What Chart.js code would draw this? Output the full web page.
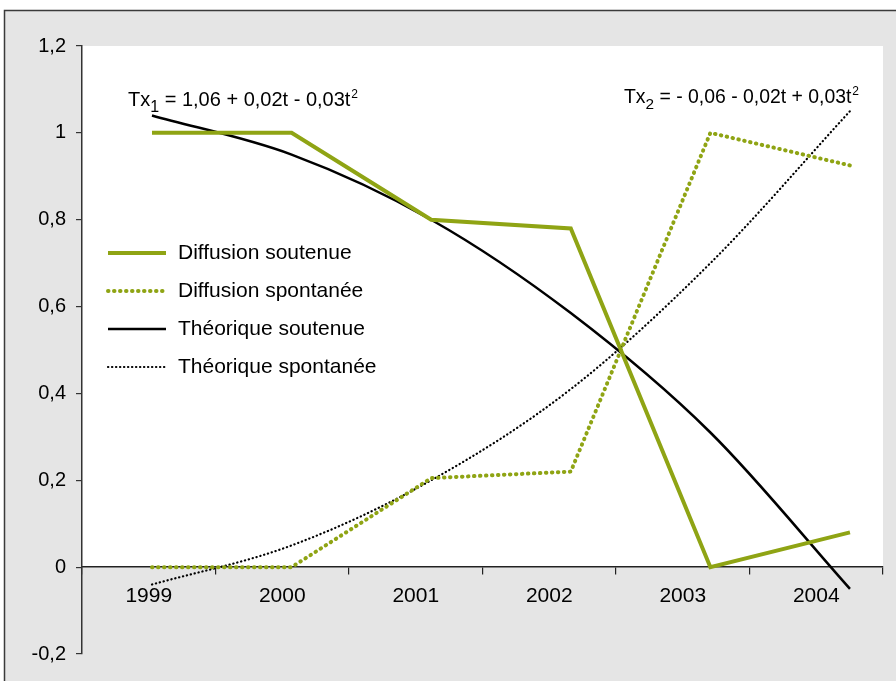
<!DOCTYPE html>
<html>
<head>
<meta charset="utf-8">
<script src="https://cdn.jsdelivr.net/npm/chart.js@4.4.1/dist/chart.umd.min.js"></script>
<style>
  body { margin: 0; background: #fff; }
  #wrap { width: 896px; height: 681px; }
</style>
</head>
<body>
<div id="wrap"><canvas id="myChart" width="896" height="681"></canvas></div>
<script>
// data
var years = ['1999', '2000', '2001', '2002', '2003', '2004'];
var steps = [0, 1, 2, 3, 4, 5];
var diffSoutenue = [1.0, 1.0, 0.80, 0.78, 0.0, 0.08];
var diffSpontanee = [0.0, 0.0, 0.205, 0.22, 1.0, 0.925];
var theoSoutenue = [1.04, 0.95, 0.80, 0.585, 0.31, -0.05];
var theoSpontanee = [-0.04, 0.05, 0.20, 0.41, 0.70, 1.05];
var yTicks = [-0.2, 0, 0.2, 0.4, 0.6, 0.8, 1, 1.2];

var GREEN = '#8fa414';
var FONT = '"Liberation Sans", Arial, Helvetica, sans-serif';

function toPoints(values) {
    return steps.map(function (s, i) { return { x: s, y: values[i] }; });
}

function fmt(v) {
    return String(Math.round(v * 10) / 10).replace('.', ',');
}

var backdrop = {
    id: 'backdrop',
    beforeDraw: function (chart) {
        var ctx = chart.ctx;
        var area = chart.chartArea;
        var y0 = chart.scales.y.getPixelForValue(0);
        ctx.save();
        ctx.fillStyle = '#e5e5e5';
        ctx.fillRect(4, 10, chart.width - 4, chart.height - 10);
        ctx.strokeStyle = '#3a3a3a';
        ctx.lineWidth = 1.5;
        ctx.beginPath();
        ctx.moveTo(4.5, chart.height);
        ctx.lineTo(4.5, 10.5);
        ctx.lineTo(chart.width, 10.5);
        ctx.stroke();
        ctx.fillStyle = '#ffffff';
        ctx.fillRect(area.left, area.top, area.right - area.left, y0 - area.top);
        ctx.restore();
    }
};

var legendRows = [
    { text: 'Diffusion soutenue', color: GREEN, width: 4, dash: [] },
    { text: 'Diffusion spontanée', color: GREEN, width: 4, dash: [0.5, 5.5] },
    { text: 'Théorique soutenue', color: '#000', width: 2.5, dash: [] },
    { text: 'Théorique spontanée', color: '#000', width: 2.2, dash: [0.3, 3.7] }
];

function drawEquation(ctx, x, y, size, sub, body) {
    ctx.font = size + 'px ' + FONT;
    ctx.fillText('Tx', x, y);
    x += ctx.measureText('Tx').width;
    ctx.font = (size - 4) + 'px ' + FONT;
    ctx.fillText(sub, x, y + 6);
    x += ctx.measureText(sub).width;
    ctx.font = size + 'px ' + FONT;
    ctx.fillText(body, x, y);
    x += ctx.measureText(body).width;
    ctx.font = '12px ' + FONT;
    ctx.fillText('2', x + 1, y - 8);
}

var annotations = {
    id: 'annotations',
    afterDraw: function (chart) {
        var ctx = chart.ctx;
        ctx.save();
        ctx.fillStyle = '#000';
        ctx.textBaseline = 'alphabetic';
        drawEquation(ctx, 128, 106, 20, '1', ' = 1,06 + 0,02t - 0,03t');
        drawEquation(ctx, 624, 103, 19.4, '2', ' = - 0,06 - 0,02t + 0,03t');

        // legend
        legendRows.forEach(function (row, i) {
            var y = 253 + i * 38;
            ctx.strokeStyle = row.color;
            ctx.lineWidth = row.width;
            ctx.lineCap = row.dash.length ? 'round' : 'butt';
            ctx.setLineDash(row.dash);
            ctx.beginPath();
            ctx.moveTo(108, y);
            ctx.lineTo(166, y);
            ctx.stroke();
            ctx.setLineDash([]);
            ctx.fillStyle = '#000';
            ctx.font = '21px ' + FONT;
            ctx.textBaseline = 'middle';
            ctx.fillText(row.text, 178, y);
        });
        ctx.restore();
    }
};

var ctx = document.getElementById('myChart').getContext('2d');
var myChart = new Chart(ctx, {
    type: 'line',
    data: {
        labels: years,
        datasets: [{
            label: 'Diffusion soutenue',
            data: toPoints(diffSoutenue),
            xAxisID: 'xt',
            borderColor: GREEN,
            borderWidth: 4,
            pointRadius: 0,
            tension: 0,
            borderJoinStyle: 'miter'
        }, {
            label: 'Diffusion spontanée',
            data: toPoints(diffSpontanee),
            xAxisID: 'xt',
            borderColor: GREEN,
            borderWidth: 4,
            borderDash: [0.5, 5.5],
            borderCapStyle: 'round',
            pointRadius: 0,
            tension: 0
        }, {
            label: 'Théorique soutenue',
            data: toPoints(theoSoutenue),
            xAxisID: 'xt',
            borderColor: '#000',
            borderWidth: 2.5,
            pointRadius: 0,
            cubicInterpolationMode: 'monotone'
        }, {
            label: 'Théorique spontanée',
            data: toPoints(theoSpontanee),
            xAxisID: 'xt',
            borderColor: '#000',
            borderWidth: 2.2,
            borderDash: [0.3, 3.7],
            borderCapStyle: 'round',
            pointRadius: 0,
            cubicInterpolationMode: 'monotone'
        }]
    },
    options: {
        responsive: false,
        animation: false,
        devicePixelRatio: 1,
        layout: { padding: { left: 0, right: 13, top: 46, bottom: 27 } },
        plugins: {
            legend: { display: false },
            tooltip: { enabled: false }
        },
        scales: {
            x: {
                type: 'category',
                position: { y: 0 },
                offset: true,
                grid: { offset: true, drawOnChartArea: false, tickLength: 7, color: '#222', lineWidth: 1.2 },
                border: { color: '#222', width: 1.5 },
                ticks: { color: '#000', font: { family: FONT, size: 21 }, padding: 9, maxRotation: 0 }
            },
            xt: {
                type: 'linear',
                axis: 'x',
                position: 'bottom',
                display: false,
                min: -0.5014,
                max: 5.2366
            },
            y: {
                type: 'linear',
                position: 'left',
                min: -0.2,
                max: 1.2,
                afterBuildTicks: function (scale) {
                    scale.ticks = yTicks.map(function (v) { return { value: v }; });
                },
                afterFit: function (scale) { scale.width = 82; },
                grid: { drawOnChartArea: false, tickLength: 6, color: '#333', lineWidth: 1.2 },
                border: { color: '#333', width: 1.5 },
                ticks: {
                    color: '#000',
                    font: { family: FONT, size: 20 },
                    padding: 10,
                    callback: function (v) { return fmt(v); }
                }
            }
        }
    },
    plugins: [backdrop, annotations]
});
</script>
</body>
</html>
